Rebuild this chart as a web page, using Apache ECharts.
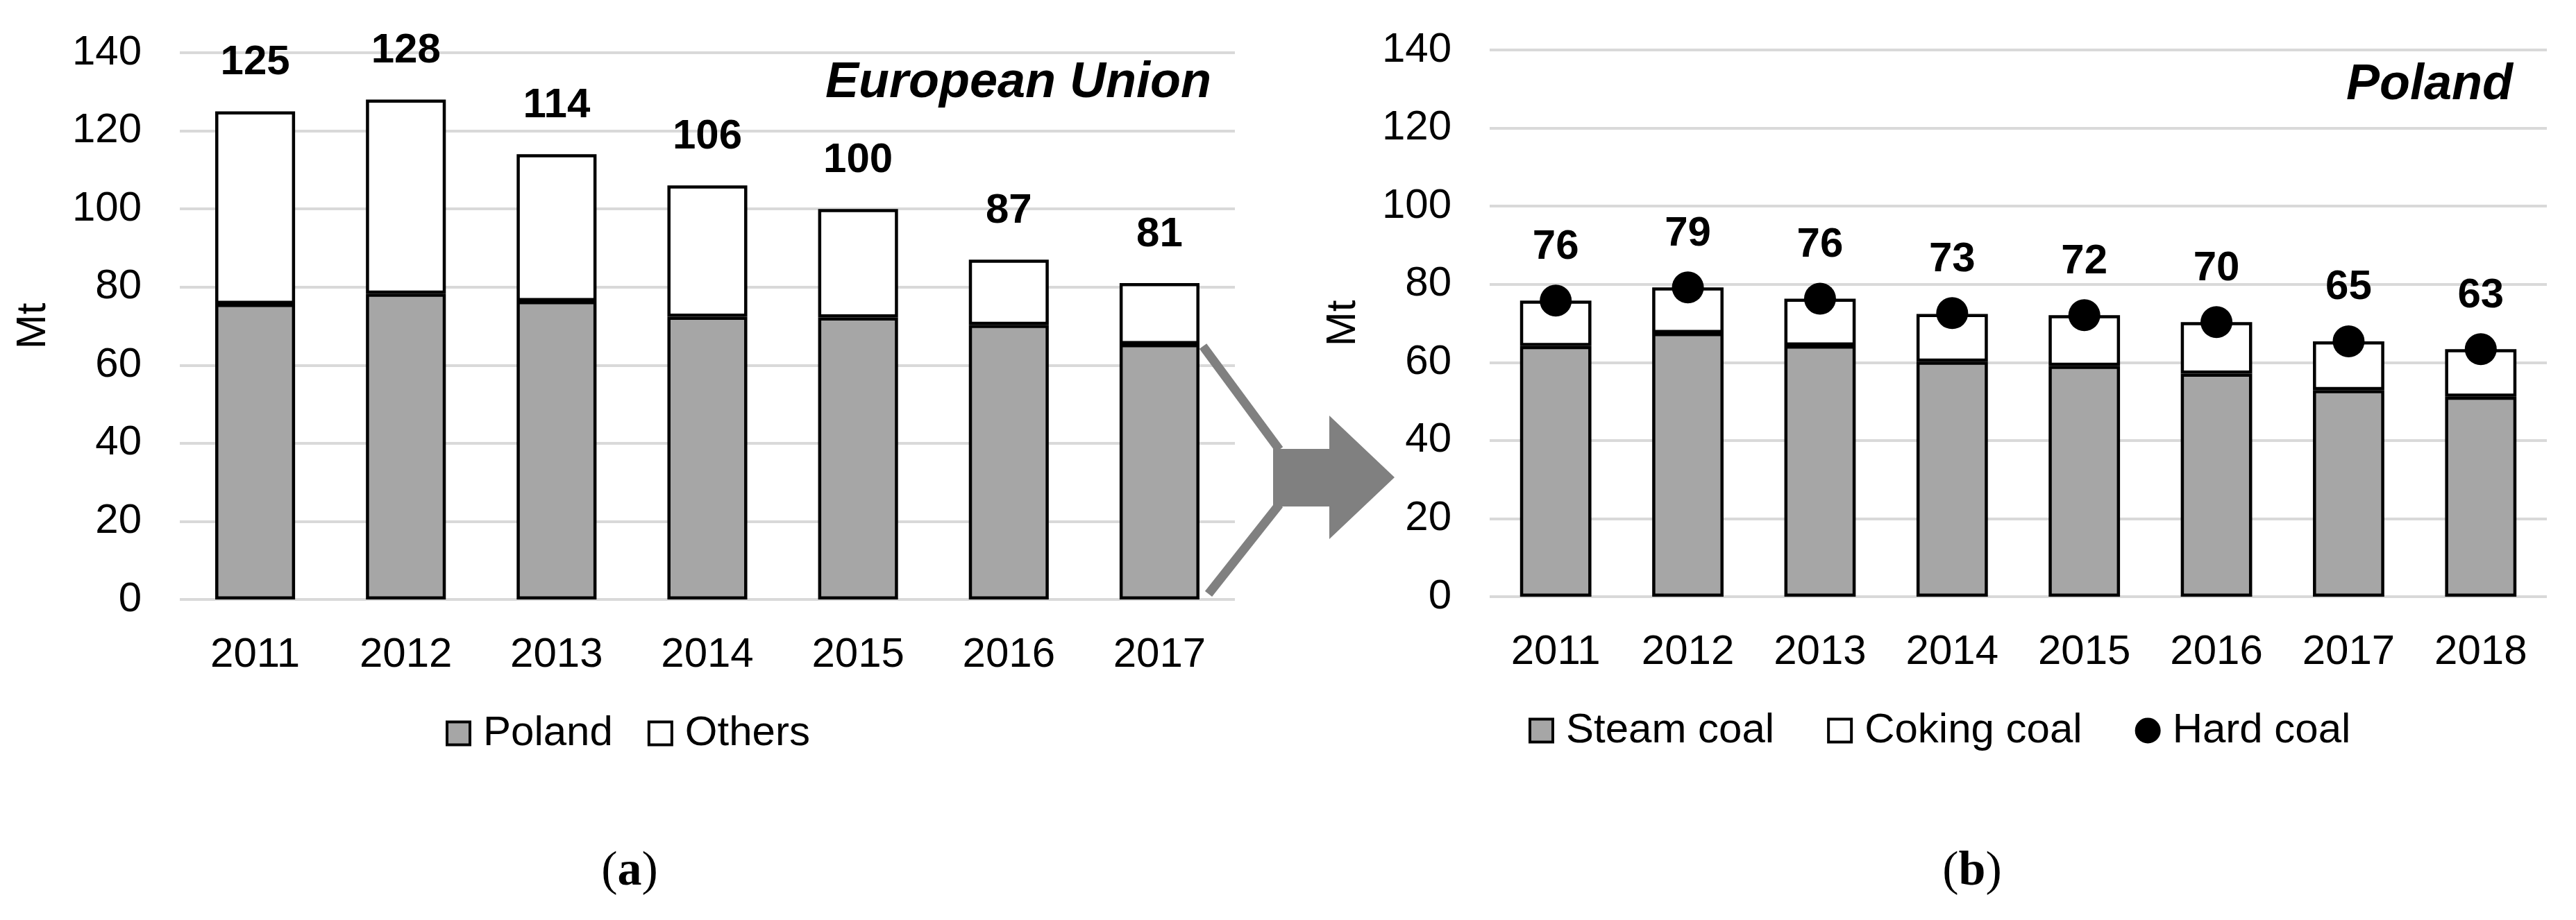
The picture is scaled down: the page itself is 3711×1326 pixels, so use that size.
<!DOCTYPE html>
<html>
<head>
<meta charset="utf-8">
<script src="https://cdn.jsdelivr.net/npm/echarts@6/dist/echarts.min.js"></script>
<style>
html,body{margin:0;padding:0;background:#fff;}
#c{width:3711px;height:1326px;}
</style>
</head>
<body>
<div id="c"></div>
<script>
// ---- Data ----
const euYears = ['2011','2012','2013','2014','2015','2016','2017'];
const euPoland = [75.7, 78.3, 76.4, 72.4, 72.2, 70.3, 65.4];
const euOthers = [49.3, 49.7, 37.6, 33.6, 27.8, 16.7, 15.6];
const euTotalLabels = [125, 128, 114, 106, 100, 87, 81];

const plYears = ['2011','2012','2013','2014','2015','2016','2017','2018'];
const plSteam = [64.2, 67.5, 64.3, 60.2, 59.1, 57.1, 52.9, 51.2];
const plCoking = [11.6, 11.7, 12.0, 12.2, 13.0, 13.2, 12.5, 12.2];
const plHard = [75.8, 79.2, 76.3, 72.6, 72.1, 70.3, 65.4, 63.4];
const plHardLabels = [76, 79, 76, 73, 72, 70, 65, 63];

const yTicks = { min: 0, max: 140, interval: 20 };

// ---- Style ----
const FONT = 'Liberation Sans, Arial, sans-serif';
const GRAY = '#a6a6a6';
const ARROW = '#808080';
const GRID = '#d9d9d9';

function yAxis(gridIndex) {
  return {
    type: 'value', gridIndex: gridIndex,
    min: yTicks.min, max: yTicks.max, interval: yTicks.interval,
    name: 'Mt', nameLocation: 'middle', nameGap: 181, nameRotate: 90,
    nameTextStyle: { fontFamily: FONT, fontSize: 60, color: '#000' },
    axisLine: { show: false }, axisTick: { show: false },
    axisLabel: { fontFamily: FONT, fontSize: 60, color: '#000', margin: 55 },
    splitLine: { lineStyle: { color: GRID, width: 4 } }
  };
}
function xAxis(gridIndex, data) {
  return {
    type: 'category', gridIndex: gridIndex, data: data,
    axisLine: { show: false }, axisTick: { show: false },
    axisLabel: { fontFamily: FONT, fontSize: 60, color: '#000', margin: 50 }
  };
}

const chart = echarts.init(document.getElementById('c'), null, { renderer: 'canvas' });
chart.setOption({
  backgroundColor: '#fff',
  animation: false,
  grid: [
    { left: 259, right: 3711 - 1779, top: 76, bottom: 1326 - 864 },
    { left: 2146, right: 3711 - 3669, top: 72, bottom: 1326 - 860 }
  ],
  xAxis: [xAxis(0, euYears), xAxis(1, plYears)],
  yAxis: [yAxis(0), yAxis(1)],
  legend: [
    {
      left: 637, top: 1022, itemWidth: 33, itemHeight: 33, itemGap: 50,
      icon: 'rect',
      data: ['Poland', 'Others'],
      itemStyle: { borderColor: '#000', borderWidth: 4 },
      textStyle: { fontFamily: FONT, fontSize: 60, color: '#000', padding: [0, 0, 0, 14] }
    },
    {
      left: 2197, top: 1018, itemWidth: 33, itemHeight: 33, itemGap: 76,
      data: [{ name: 'Steam coal', icon: 'rect' }, { name: 'Coking coal', icon: 'rect' }, { name: 'Hard coal', icon: 'circle' }],
      itemStyle: { borderColor: '#000', borderWidth: 4 },
      textStyle: { fontFamily: FONT, fontSize: 60, color: '#000', padding: [0, 0, 0, 14] }
    }
  ],
  series: [
    {
      name: 'Poland', type: 'bar', stack: 'eu', xAxisIndex: 0, yAxisIndex: 0,
      data: euPoland, barWidth: '53%',
      itemStyle: { color: GRAY, borderColor: '#000', borderWidth: 4.5 }
    },
    {
      name: 'Others', type: 'bar', stack: 'eu', xAxisIndex: 0, yAxisIndex: 0,
      data: euOthers, barWidth: '53%',
      itemStyle: { color: '#fff', borderColor: '#000', borderWidth: 4.5 },
      label: {
        show: true, position: 'top', distance: 40,
        fontFamily: FONT, fontSize: 60, fontWeight: 'bold', color: '#000',
        formatter: p => String(euTotalLabels[p.dataIndex])
      }
    },
    {
      name: 'Steam coal', type: 'bar', stack: 'pl', xAxisIndex: 1, yAxisIndex: 1,
      data: plSteam, barWidth: '54%',
      itemStyle: { color: GRAY, borderColor: '#000', borderWidth: 4.5 }
    },
    {
      name: 'Coking coal', type: 'bar', stack: 'pl', xAxisIndex: 1, yAxisIndex: 1,
      data: plCoking, barWidth: '54%',
      itemStyle: { color: '#fff', borderColor: '#000', borderWidth: 4.5 }
    },
    {
      name: 'Hard coal', type: 'scatter', xAxisIndex: 1, yAxisIndex: 1,
      data: plHard, symbol: 'circle', symbolSize: 46, z: 5,
      itemStyle: { color: '#000', opacity: 1 },
      label: {
        show: true, position: 'top', distance: 24,
        fontFamily: FONT, fontSize: 60, fontWeight: 'bold', color: '#000',
        formatter: p => String(plHardLabels[p.dataIndex])
      }
    }
  ],
  graphic: [
    { type: 'text', right: 3711 - 1745, top: 84,
      style: { text: 'European Union', fontFamily: FONT, fontSize: 72, fontWeight: 'bold', fontStyle: 'italic', fill: '#000' } },
    { type: 'text', right: 3711 - 3620, top: 87,
      style: { text: 'Poland', fontFamily: FONT, fontSize: 72, fontWeight: 'bold', fontStyle: 'italic', fill: '#000' } },
    { type: 'polygon', z: 10,
      shape: { points: [[1834,647],[1915,647],[1915,599],[2009,688],[1915,777],[1915,730],[1834,730]] },
      style: { fill: ARROW } },
    { type: 'polyline', z: 10, shape: { points: [[1733,499],[1843,648]] },
      style: { stroke: ARROW, lineWidth: 13, fill: null } },
    { type: 'polyline', z: 10, shape: { points: [[1741,856],[1843,727]] },
      style: { stroke: ARROW, lineWidth: 13, fill: null } },
    { type: 'text', x: 907, y: 1257,
      style: { text: '{p|(}{b|a}{p|)}', align: 'center', verticalAlign: 'middle',
        rich: { p: { fontFamily: 'Liberation Serif, serif', fontSize: 70, fill: '#000' },
                b: { fontFamily: 'Liberation Serif, serif', fontSize: 70, fontWeight: 'bold', fill: '#000' } } } },
    { type: 'text', x: 2841, y: 1257,
      style: { text: '{p|(}{b|b}{p|)}', align: 'center', verticalAlign: 'middle',
        rich: { p: { fontFamily: 'Liberation Serif, serif', fontSize: 70, fill: '#000' },
                b: { fontFamily: 'Liberation Serif, serif', fontSize: 70, fontWeight: 'bold', fill: '#000' } } } }
  ]
});
</script>
</body>
</html>
